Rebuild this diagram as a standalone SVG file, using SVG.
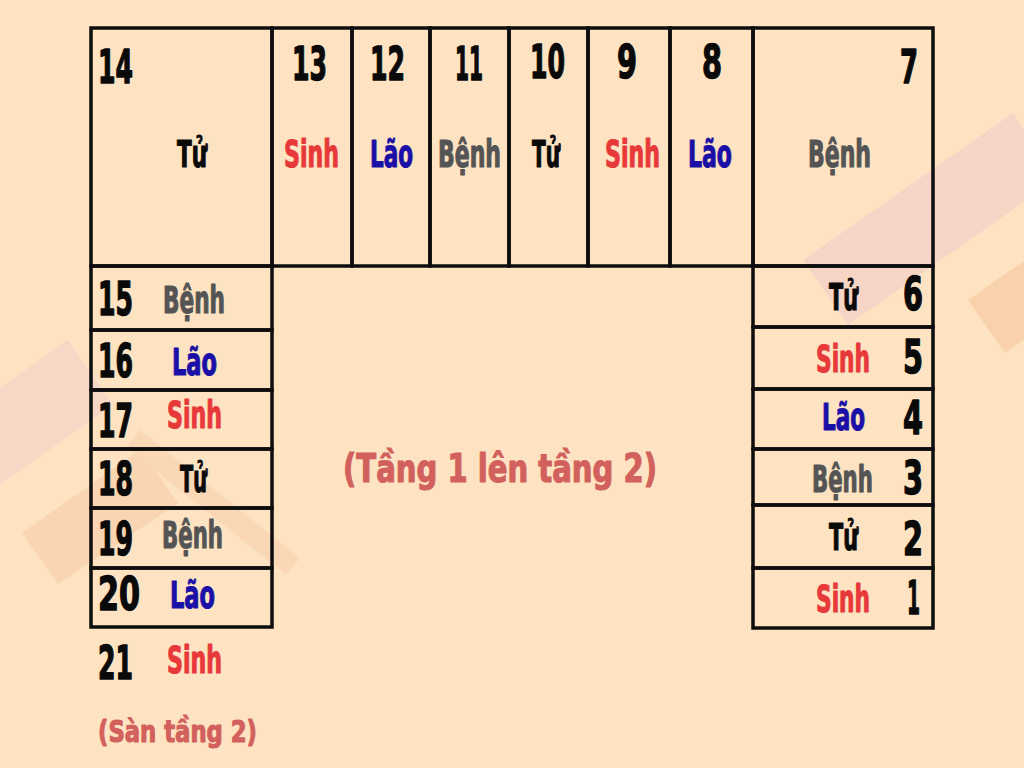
<svg xmlns="http://www.w3.org/2000/svg" width="1024" height="768" viewBox="0 0 1024 768">
  <style>
    .t { font-family: "DejaVu Sans Condensed", "DejaVu Sans", sans-serif; font-weight: bold; font-stretch: condensed; stroke-linejoin: round; }
    .num { font-size: 47px; fill: #0a0a0a; stroke: #0a0a0a; stroke-width: 1.4; }
    .lbl { font-size: 37px; stroke-width: 1.1; }
    .tu { fill: #0a0a0a; stroke: #0a0a0a; }
    .sinh { fill: #e8393a; stroke: #e8393a; }
    .lao { fill: #1a0fa6; stroke: #1a0fa6; }
    .benh { fill: #545454; stroke: #545454; }
    .note { fill: #d2605c; stroke: #d2605c; stroke-width: 1.1; }
    .cell { fill: none; stroke: #0d0d0d; stroke-width: 3.5; }
  </style>
  <rect x="0" y="0" width="1024" height="768" fill="#fde3c1"/>
  <g id="decor">
    <polygon points="803,260 1013,113 1058,178 848,325" fill="#f6d4c6"/>
    <polygon points="968,300 1091,214 1128,267 1005,353" fill="#f9d1ab"/>
    <polygon points="68,340 -200,528 -155,593 113,405" fill="#f7d7c6"/>
    <polygon points="22,533 140,450 178,503 58,584" fill="#f9d5b1"/>
    <polygon points="140,430 300,558 286,575 126,447" fill="#fad8b6"/>
  </g>

  <g id="step14"><rect class="cell" x="91" y="28" width="181" height="238"/>
    <text class="t num" x="98" y="83" textLength="35" lengthAdjust="spacingAndGlyphs">14</text>
    <text class="t lbl tu" x="177" y="167" textLength="30" lengthAdjust="spacingAndGlyphs">Tử</text></g>
  <g id="step13"><rect class="cell" x="272" y="28" width="80" height="238"/>
    <text class="t num" x="292" y="80" textLength="35" lengthAdjust="spacingAndGlyphs">13</text>
    <text class="t lbl sinh" x="284" y="167" textLength="55" lengthAdjust="spacingAndGlyphs">Sinh</text></g>
  <g id="step12"><rect class="cell" x="352" y="28" width="78" height="238"/>
    <text class="t num" x="370" y="80" textLength="35" lengthAdjust="spacingAndGlyphs">12</text>
    <text class="t lbl lao" x="370" y="167" textLength="43" lengthAdjust="spacingAndGlyphs">Lão</text></g>
  <g id="step11"><rect class="cell" x="430" y="28" width="79" height="238"/>
    <text class="t num" x="455" y="80" textLength="28" lengthAdjust="spacingAndGlyphs">11</text>
    <text class="t lbl benh" x="438" y="167" textLength="63" lengthAdjust="spacingAndGlyphs">Bệnh</text></g>
  <g id="step10"><rect class="cell" x="509" y="28" width="79" height="238"/>
    <text class="t num" x="530" y="78" textLength="35" lengthAdjust="spacingAndGlyphs">10</text>
    <text class="t lbl tu" x="532" y="167" textLength="28" lengthAdjust="spacingAndGlyphs">Tử</text></g>
  <g id="step9"><rect class="cell" x="588" y="28" width="82" height="238"/>
    <text class="t num" x="617" y="78" textLength="20" lengthAdjust="spacingAndGlyphs">9</text>
    <text class="t lbl sinh" x="605" y="167" textLength="55" lengthAdjust="spacingAndGlyphs">Sinh</text></g>
  <g id="step8"><rect class="cell" x="670" y="28" width="83" height="238"/>
    <text class="t num" x="702" y="78" textLength="20" lengthAdjust="spacingAndGlyphs">8</text>
    <text class="t lbl lao" x="688" y="167" textLength="44" lengthAdjust="spacingAndGlyphs">Lão</text></g>
  <g id="step7"><rect class="cell" x="753" y="28" width="180" height="238"/>
    <text class="t num" x="900" y="83" textLength="18" lengthAdjust="spacingAndGlyphs">7</text>
    <text class="t lbl benh" x="808" y="167" textLength="63" lengthAdjust="spacingAndGlyphs">Bệnh</text></g>

  <g id="step15"><rect class="cell" x="91" y="266" width="181" height="64"/>
    <text class="t num" x="98" y="315" textLength="35" lengthAdjust="spacingAndGlyphs">15</text>
    <text class="t lbl benh" x="163" y="313" textLength="62" lengthAdjust="spacingAndGlyphs">Bệnh</text></g>
  <g id="step16"><rect class="cell" x="91" y="330" width="181" height="60"/>
    <text class="t num" x="98" y="377" textLength="35" lengthAdjust="spacingAndGlyphs">16</text>
    <text class="t lbl lao" x="172" y="375" textLength="45" lengthAdjust="spacingAndGlyphs">Lão</text></g>
  <g id="step17"><rect class="cell" x="91" y="390" width="181" height="59"/>
    <text class="t num" x="98" y="437" textLength="35" lengthAdjust="spacingAndGlyphs">17</text>
    <text class="t lbl sinh" x="167" y="428" textLength="55" lengthAdjust="spacingAndGlyphs">Sinh</text></g>
  <g id="step18"><rect class="cell" x="91" y="449" width="181" height="59"/>
    <text class="t num" x="98" y="495" textLength="35" lengthAdjust="spacingAndGlyphs">18</text>
    <text class="t lbl tu" x="180" y="492" textLength="27" lengthAdjust="spacingAndGlyphs">Tử</text></g>
  <g id="step19"><rect class="cell" x="91" y="508" width="181" height="60"/>
    <text class="t num" x="98" y="555" textLength="35" lengthAdjust="spacingAndGlyphs">19</text>
    <text class="t lbl benh" x="162" y="548" textLength="61" lengthAdjust="spacingAndGlyphs">Bệnh</text></g>
  <g id="step20"><rect class="cell" x="91" y="568" width="181" height="59"/>
    <text class="t num" x="98" y="610" textLength="42" lengthAdjust="spacingAndGlyphs">20</text>
    <text class="t lbl lao" x="170" y="608" textLength="45" lengthAdjust="spacingAndGlyphs">Lão</text></g>
  <g id="step21">
    <text class="t num" x="98" y="679" textLength="35" lengthAdjust="spacingAndGlyphs">21</text>
    <text class="t lbl sinh" x="167" y="673" textLength="55" lengthAdjust="spacingAndGlyphs">Sinh</text></g>
  <g id="landing">
    <text class="t note" x="98" y="742" font-size="31" textLength="159" lengthAdjust="spacingAndGlyphs">(Sàn tầng 2)</text></g>

  <g id="step6"><rect class="cell" x="753" y="266" width="180" height="61"/>
    <text class="t lbl tu" x="829" y="310" textLength="29" lengthAdjust="spacingAndGlyphs">Tử</text>
    <text class="t num" x="903" y="310" textLength="20" lengthAdjust="spacingAndGlyphs">6</text></g>
  <g id="step5"><rect class="cell" x="753" y="327" width="180" height="62"/>
    <text class="t lbl sinh" x="816" y="372" textLength="54" lengthAdjust="spacingAndGlyphs">Sinh</text>
    <text class="t num" x="903" y="373" textLength="20" lengthAdjust="spacingAndGlyphs">5</text></g>
  <g id="step4"><rect class="cell" x="753" y="389" width="180" height="60"/>
    <text class="t lbl lao" x="822" y="430" textLength="43" lengthAdjust="spacingAndGlyphs">Lão</text>
    <text class="t num" x="903" y="434" textLength="20" lengthAdjust="spacingAndGlyphs">4</text></g>
  <g id="step3"><rect class="cell" x="753" y="449" width="180" height="56"/>
    <text class="t lbl benh" transform="translate(812 492) scale(0.7 1)" x="0" y="0" textLength="87" lengthAdjust="spacingAndGlyphs">Bệnh</text>
    <text class="t num" x="903" y="494" textLength="20" lengthAdjust="spacingAndGlyphs">3</text></g>
  <g id="step2"><rect class="cell" x="753" y="505" width="180" height="63"/>
    <text class="t lbl tu" x="829" y="550" textLength="29" lengthAdjust="spacingAndGlyphs">Tử</text>
    <text class="t num" x="903" y="555" textLength="20" lengthAdjust="spacingAndGlyphs">2</text></g>
  <g id="step1"><rect class="cell" x="753" y="568" width="180" height="60"/>
    <text class="t lbl sinh" x="816" y="612" textLength="54" lengthAdjust="spacingAndGlyphs">Sinh</text>
    <text class="t num" x="907" y="614" textLength="13" lengthAdjust="spacingAndGlyphs">1</text></g>

  <g id="title">
    <text class="t note" x="343" y="482" font-size="39" textLength="314" lengthAdjust="spacingAndGlyphs">(Tầng 1 lên tầng 2)</text></g>
  <g id="connectors"></g>
</svg>
